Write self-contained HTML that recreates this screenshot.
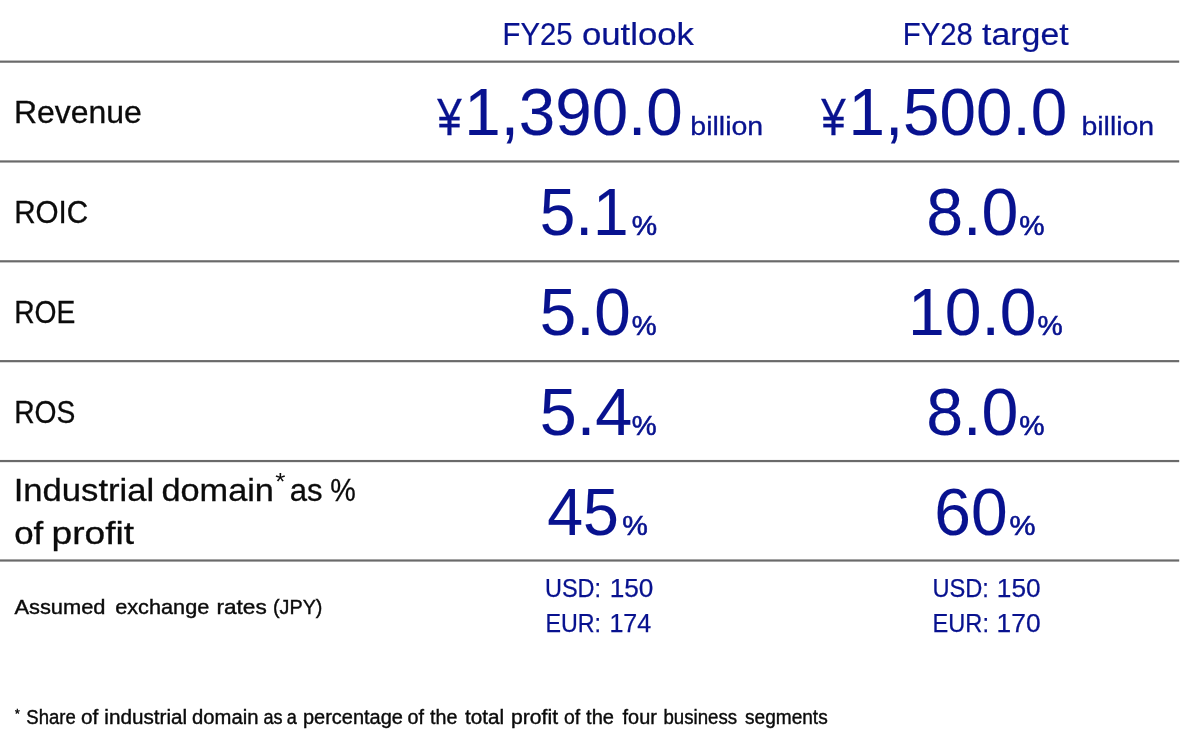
<!DOCTYPE html>
<html lang="en">
<head>
<meta charset="utf-8">
<title>Financial targets</title>
<style>
html,body{margin:0;padding:0;background:#fff;}
body{width:1181px;height:744px;position:relative;overflow:hidden;font-family:"Liberation Sans",sans-serif;}
.t{position:absolute;left:0;top:0;white-space:pre;line-height:1;transform-origin:0 0;display:block;margin:0;padding:0;}
.ln{position:absolute;left:0;top:0;width:1181px;height:744px;}
.b{color:#08128f}.k{color:#0b0b0b}
</style>
</head>
<body>

<svg class="ln" width="1181" height="744" viewBox="0 0 1181 744">
<rect x="0" y="60.55" width="1179.2" height="2.2" fill="#6a6a6a"/>
<rect x="0" y="160.35" width="1179.2" height="2.2" fill="#6a6a6a"/>
<rect x="0" y="260.20" width="1179.2" height="2.2" fill="#6a6a6a"/>
<rect x="0" y="360.05" width="1179.2" height="2.2" fill="#6a6a6a"/>
<rect x="0" y="459.95" width="1179.2" height="2.2" fill="#6a6a6a"/>
<rect x="0" y="559.40" width="1179.2" height="2.2" fill="#6a6a6a"/>
</svg>
<div class="row" id="h1"><span class="t b" style="font-size:31px;transform:translate(502.61px,18.56px) scaleX(0.9442);-webkit-text-stroke:0.2px">FY25</span> <span class="t b" style="font-size:31px;transform:translate(581.98px,18.56px) scaleX(1.1200);-webkit-text-stroke:0.2px">outlook</span></div>
<div class="row" id="h2"><span class="t b" style="font-size:31px;transform:translate(902.71px,18.56px) scaleX(0.9470);-webkit-text-stroke:0.2px">FY28</span> <span class="t b" style="font-size:31px;transform:translate(982.10px,18.56px) scaleX(1.0922);-webkit-text-stroke:0.2px">target</span></div>
<div class="row" id="l1"><span class="t k" style="font-size:32px;transform:translate(14.00px,95.92px) scaleX(0.9976);-webkit-text-stroke:0.3px">Revenue</span></div>
<div class="row" id="r1a"><span class="t b" style="font-size:52.5px;transform:translate(437.24px,90.76px) scaleX(0.8355);-webkit-text-stroke:0.3px">¥</span><span class="t b" style="font-size:66px;transform:translate(464.24px,78.94px) scaleX(0.9920);-webkit-text-stroke:0.1px">1,390.0</span> <span class="t b" style="font-size:26px;transform:translate(690.30px,113.19px) scaleX(1.0964);-webkit-text-stroke:0.3px">billion</span></div>
<div class="row" id="r1b"><span class="t b" style="font-size:52.5px;transform:translate(821.24px,90.76px) scaleX(0.8355);-webkit-text-stroke:0.3px">¥</span><span class="t b" style="font-size:66px;transform:translate(848.44px,78.94px) scaleX(0.9930);-webkit-text-stroke:0.1px">1,500.0</span> <span class="t b" style="font-size:26px;transform:translate(1081.41px,113.19px) scaleX(1.0949);-webkit-text-stroke:0.3px">billion</span></div>
<div class="row" id="l2"><span class="t k" style="font-size:32px;transform:translate(14.15px,195.92px) scaleX(0.9260);-webkit-text-stroke:0.3px">ROIC</span></div>
<div class="row" id="r2a"><span class="t b" style="font-size:66px;transform:translate(539.76px,179.24px) scaleX(0.9685);-webkit-text-stroke:0.1px">5.1</span><span class="t b" style="font-size:27.5px;transform:translate(631.80px,212.12px) scaleX(1.0375);-webkit-text-stroke:0.6px">%</span></div>
<div class="row" id="r2b"><span class="t b" style="font-size:66px;transform:translate(926.19px,179.24px) scaleX(1.0041);-webkit-text-stroke:0.1px">8.0</span><span class="t b" style="font-size:27.5px;transform:translate(1019.20px,212.12px) scaleX(1.0333);-webkit-text-stroke:0.6px">%</span></div>
<div class="row" id="l3"><span class="t k" style="font-size:32px;transform:translate(14.24px,295.92px) scaleX(0.8818);-webkit-text-stroke:0.3px">ROE</span></div>
<div class="row" id="r3a"><span class="t b" style="font-size:66px;transform:translate(539.71px,279.24px) scaleX(0.9927);-webkit-text-stroke:0.1px">5.0</span><span class="t b" style="font-size:27.5px;transform:translate(631.80px,312.12px) scaleX(1.0167);-webkit-text-stroke:0.6px">%</span></div>
<div class="row" id="r3b"><span class="t b" style="font-size:66px;transform:translate(907.99px,279.24px) scaleX(1.0012);-webkit-text-stroke:0.1px">10.0</span><span class="t b" style="font-size:27.5px;transform:translate(1037.60px,312.12px) scaleX(1.0292);-webkit-text-stroke:0.6px">%</span></div>
<div class="row" id="l4"><span class="t k" style="font-size:32px;transform:translate(14.24px,395.92px) scaleX(0.8818);-webkit-text-stroke:0.3px">ROS</span></div>
<div class="row" id="r4a"><span class="t b" style="font-size:66px;transform:translate(539.69px,379.24px) scaleX(1.0075);-webkit-text-stroke:0.1px">5.4</span><span class="t b" style="font-size:27.5px;transform:translate(631.80px,412.12px) scaleX(1.0167);-webkit-text-stroke:0.6px">%</span></div>
<div class="row" id="r4b"><span class="t b" style="font-size:66px;transform:translate(926.19px,379.24px) scaleX(1.0041);-webkit-text-stroke:0.1px">8.0</span><span class="t b" style="font-size:27.5px;transform:translate(1019.20px,412.12px) scaleX(1.0333);-webkit-text-stroke:0.6px">%</span></div>
<div class="row" id="l5a"><span class="t k" style="font-size:32px;transform:translate(13.63px,473.62px) scaleX(1.0832);-webkit-text-stroke:0.3px">Industrial</span> <span class="t k" style="font-size:32px;transform:translate(161.43px,473.62px) scaleX(1.0719);-webkit-text-stroke:0.3px">domain</span><span class="t k" style="font-size:23.08px;transform:translate(275.20px,471.14px) scaleX(1.1333)">*</span> <span class="t k" style="font-size:32px;transform:translate(289.63px,473.62px) scaleX(0.9714);-webkit-text-stroke:0.3px">as</span> <span class="t k" style="font-size:32px;transform:translate(330.30px,473.62px) scaleX(0.8963);-webkit-text-stroke:0.3px">%</span></div>
<div class="row" id="l5b"><span class="t k" style="font-size:32px;transform:translate(14.21px,516.72px) scaleX(1.0893);-webkit-text-stroke:0.3px">of</span> <span class="t k" style="font-size:32px;transform:translate(51.58px,516.72px) scaleX(1.1610);-webkit-text-stroke:0.3px">profit</span></div>
<div class="row" id="r5a"><span class="t b" style="font-size:66px;transform:translate(547.22px,479.24px) scaleX(0.9755);-webkit-text-stroke:0.1px">45</span><span class="t b" style="font-size:27.5px;transform:translate(622.30px,512.12px) scaleX(1.0458);-webkit-text-stroke:0.6px">%</span></div>
<div class="row" id="r5b"><span class="t b" style="font-size:66px;transform:translate(934.30px,479.24px) scaleX(0.9985);-webkit-text-stroke:0.1px">60</span><span class="t b" style="font-size:27.5px;transform:translate(1009.40px,512.12px) scaleX(1.0625);-webkit-text-stroke:0.6px">%</span></div>
<div class="row" id="l6"><span class="t k" style="font-size:21px;transform:translate(14.40px,596.03px) scaleX(1.0408);-webkit-text-stroke:0.4px">Assumed</span> <span class="t k" style="font-size:21px;transform:translate(115.20px,596.03px) scaleX(1.0332);-webkit-text-stroke:0.4px">exchange</span> <span class="t k" style="font-size:21px;transform:translate(216.42px,596.03px) scaleX(1.0778);-webkit-text-stroke:0.4px">rates</span> <span class="t k" style="font-size:21px;transform:translate(273.04px,596.03px) scaleX(0.9411);-webkit-text-stroke:0.4px">(JPY)</span></div>
<div class="row" id="u1a"><span class="t b" style="font-size:25px;transform:translate(544.96px,576.24px) scaleX(0.9387);-webkit-text-stroke:0.25px">USD:</span> <span class="t b" style="font-size:25px;transform:translate(609.65px,576.24px) scaleX(1.0475);-webkit-text-stroke:0.25px">150</span></div>
<div class="row" id="u2a"><span class="t b" style="font-size:25px;transform:translate(545.44px,611.24px) scaleX(0.9304);-webkit-text-stroke:0.25px">EUR:</span> <span class="t b" style="font-size:25px;transform:translate(609.40px,611.24px) scaleX(1.0023);-webkit-text-stroke:0.25px">174</span></div>
<div class="row" id="u1b"><span class="t b" style="font-size:25px;transform:translate(932.45px,576.24px) scaleX(0.9457);-webkit-text-stroke:0.25px">USD:</span> <span class="t b" style="font-size:25px;transform:translate(996.85px,576.24px) scaleX(1.0475);-webkit-text-stroke:0.25px">150</span></div>
<div class="row" id="u2b"><span class="t b" style="font-size:25px;transform:translate(932.61px,611.24px) scaleX(0.9429);-webkit-text-stroke:0.25px">EUR:</span> <span class="t b" style="font-size:25px;transform:translate(996.54px,611.24px) scaleX(1.0551);-webkit-text-stroke:0.25px">170</span></div>
<div class="row" id="fn"><span class="t k" style="font-size:13.68px;transform:translate(15.10px,707.13px) scaleX(0.8833);-webkit-text-stroke:0.5px">*</span> <span class="t k" style="font-size:20px;transform:translate(26.30px,707.37px) scaleX(0.9259);-webkit-text-stroke:0.4px">Share</span> <span class="t k" style="font-size:20px;transform:translate(80.90px,707.37px) scaleX(1.0395);-webkit-text-stroke:0.4px">of</span> <span class="t k" style="font-size:20px;transform:translate(104.37px,707.37px) scaleX(1.0344);-webkit-text-stroke:0.4px">industrial</span> <span class="t k" style="font-size:20px;transform:translate(192.10px,707.37px) scaleX(1.0113);-webkit-text-stroke:0.4px">domain</span> <span class="t k" style="font-size:20px;transform:translate(263.57px,707.37px) scaleX(0.9025);-webkit-text-stroke:0.4px">as</span> <span class="t k" style="font-size:20px;transform:translate(286.79px,707.37px) scaleX(0.9025);-webkit-text-stroke:0.4px">a</span> <span class="t k" style="font-size:20px;transform:translate(302.90px,707.37px) scaleX(0.9994);-webkit-text-stroke:0.4px">percentage</span> <span class="t k" style="font-size:20px;transform:translate(407.60px,707.37px) scaleX(0.9870);-webkit-text-stroke:0.4px">of</span> <span class="t k" style="font-size:20px;transform:translate(430.10px,707.37px) scaleX(0.9827);-webkit-text-stroke:0.4px">the</span> <span class="t k" style="font-size:20px;transform:translate(465.00px,707.37px) scaleX(1.0332);-webkit-text-stroke:0.4px">total</span> <span class="t k" style="font-size:20px;transform:translate(510.98px,707.37px) scaleX(1.0594);-webkit-text-stroke:0.4px">profit</span> <span class="t k" style="font-size:20px;transform:translate(564.00px,707.37px) scaleX(0.9695);-webkit-text-stroke:0.4px">of</span> <span class="t k" style="font-size:20px;transform:translate(586.10px,707.37px) scaleX(1.0043);-webkit-text-stroke:0.4px">the</span> <span class="t k" style="font-size:20px;transform:translate(622.60px,707.37px) scaleX(0.9942);-webkit-text-stroke:0.4px">four</span> <span class="t k" style="font-size:20px;transform:translate(663.47px,707.37px) scaleX(0.9328);-webkit-text-stroke:0.4px">business</span> <span class="t k" style="font-size:20px;transform:translate(745.00px,707.37px) scaleX(0.9538);-webkit-text-stroke:0.4px">segments</span></div>
</body>
</html>
